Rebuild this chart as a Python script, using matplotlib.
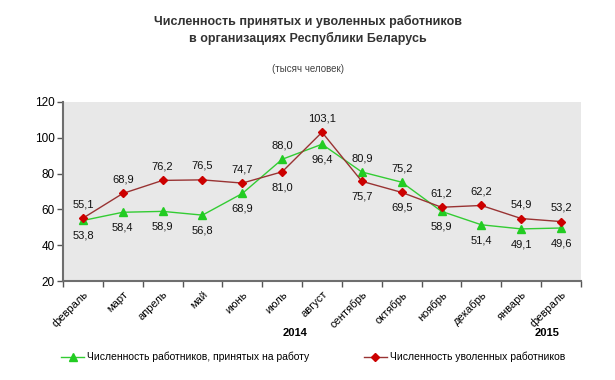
import matplotlib
matplotlib.use('Agg')
import matplotlib.pyplot as plt

plt.rcParams['font.family'] = ['Liberation Sans', 'DejaVu Sans']

months = ['февраль', 'март', 'апрель', 'май', 'июнь', 'июль', 'август',
          'сентябрь', 'октябрь', 'ноябрь', 'декабрь', 'январь', 'февраль']
hired = [53.8, 58.4, 58.9, 56.8, 68.9, 88.0, 96.4, 80.9, 75.2, 58.9, 51.4, 49.1, 49.6]
fired = [55.1, 68.9, 76.2, 76.5, 74.7, 81.0, 103.1, 75.7, 69.5, 61.2, 62.2, 54.9, 53.2]
years = ['2014', '2015']

hired_label = 'Численность работников, принятых на работу'
fired_label = 'Численность уволенных работников'


def fmt(v):
    return f'{v:.1f}'.replace('.', ',')


def main():
    fig = plt.figure(figsize=(6.15, 3.8), dpi=100)
    ax = fig.add_axes([63 / 615, 1 - 281 / 380, 518 / 615, 179 / 380])
    ax.set_facecolor('#e8e8e8')

    x = list(range(len(months)))
    ax.plot(x, hired, '-', color='#33cc33', lw=1, marker='^', ms=6,
            mfc='#22cc22', mec='#22cc22', label=hired_label)
    ax.plot(x, fired, '-', color='#993333', lw=1, marker='D', ms=4.5,
            mfc='#cc0000', mec='#cc0000', label=fired_label)

    # labels: higher series above, lower series below
    for i in x:
        for vals, other in ((hired, fired), (fired, hired)):
            up = vals[i] >= other[i]
            ax.annotate(fmt(vals[i]), (i, vals[i]),
                        xytext=(0, 10 if up else -11), textcoords='offset points',
                        ha='center', va='center', fontsize=8, color='#111111')

    ax.set_xlim(-0.5, len(months) - 0.5)
    ax.set_ylim(20, 120)
    ax.set_yticks(range(20, 121, 20))
    ax.set_xticks([i - 0.5 for i in range(len(months) + 1)], minor=False)
    ax.set_xticklabels([])
    ax.set_xticks(x, minor=True)
    ax.set_xticklabels(months, minor=True, rotation=45, ha='right', va='top',
                       rotation_mode='anchor', fontsize=8)
    ax.tick_params(axis='x', which='minor', length=0, pad=6)
    ax.tick_params(axis='x', which='major', length=4, color='#555555', width=1)
    ax.tick_params(axis='y', length=4, color='#555555', width=1, labelsize=8.5, pad=2)

    for s in ('top', 'right'):
        ax.spines[s].set_visible(False)
    for s in ('left', 'bottom'):
        ax.spines[s].set_color('#6e6e6e')
        ax.spines[s].set_linewidth(1.5)

    fig.text(0.5, 1 - 30 / 380, 'Численность принятых и уволенных работников\nв организациях Республики Беларусь',
             ha='center', va='center', fontsize=9, fontweight='bold', color='#333333',
             linespacing=1.3)
    fig.text(0.5, 1 - 69 / 380, '(тысяч человек)', ha='center', va='center',
             fontsize=7, color='#444444')

    fig.text(295 / 615, 1 - 333 / 380, years[0], ha='center', va='center',
             fontsize=8, fontweight='bold')
    fig.text(547 / 615, 1 - 333 / 380, years[1], ha='center', va='center',
             fontsize=8, fontweight='bold')

    fig.legend(loc='center', bbox_to_anchor=(313 / 615, 1 - 357 / 380), ncol=2,
               frameon=False, fontsize=7.5, handlelength=2.2, columnspacing=5.2,
               handletextpad=0.3)

    fig.savefig('out.png', dpi=100)


if __name__ == '__main__':
    main()
